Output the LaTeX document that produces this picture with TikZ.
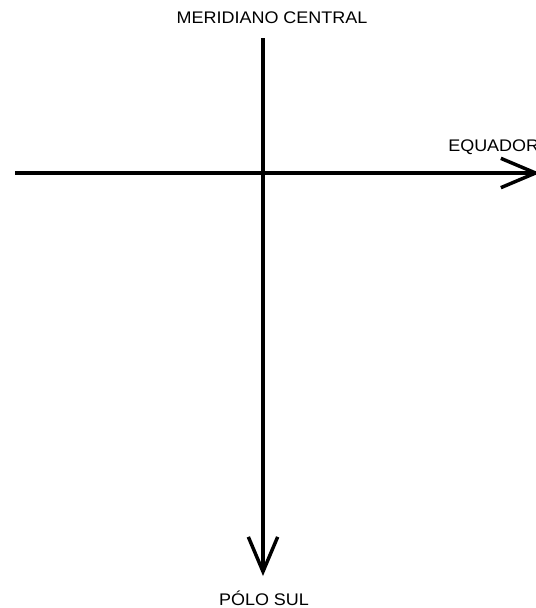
\documentclass[tikz,border=0pt]{standalone}
\usepackage{fontspec}
\setmainfont{Liberation Sans}
\usetikzlibrary{arrows.meta}
\begin{document}
\begin{tikzpicture}[x=0.75pt,y=-0.75pt,
  axis/.style={line width=3pt,-{Straight Barb[length=26pt,width=22pt,line width=2.6pt]}},
  lbl/.style={font=\fontsize{12.6}{14}\selectfont,inner sep=0pt,xscale=1.07}]
\useasboundingbox (0,0) rectangle (536,608);
\clip (0,0) rectangle (536,608);
\fill[white] (0,0) rectangle (536,608);
\coordinate (vtop) at (263,38);
\coordinate (vbot) at (263,576);
\coordinate (hleft) at (15,173);
\coordinate (hright) at (540,173);
\draw[axis] (vtop) -- (vbot);
\draw[axis] (hleft) -- (hright);
\node[lbl] (mer) at (272,18) {MERIDIANO CENTRAL};
\node[lbl,anchor=west] (equ) at (448,147) {EQUADOR};
\node[lbl] (sul) at (264,598) {PÓLO SUL};
\end{tikzpicture}
\end{document}
